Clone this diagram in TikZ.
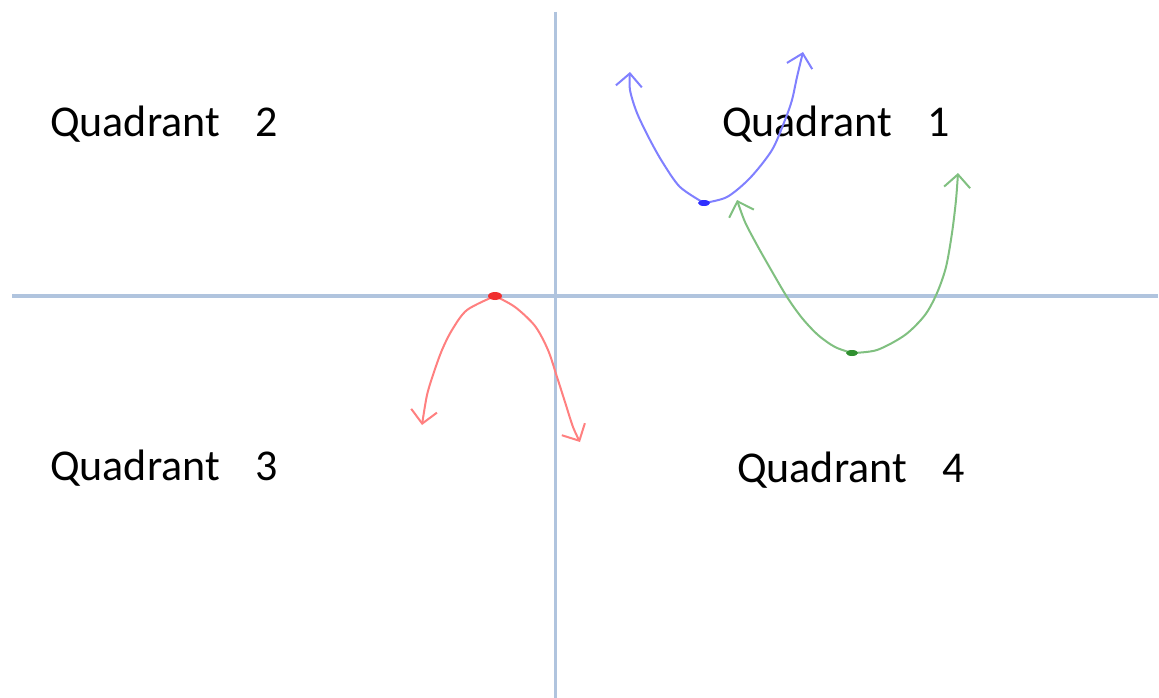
\documentclass[tikz,border=0pt]{standalone}
\usepackage{fontspec}
\setmainfont{Carlito}
\usetikzlibrary{arrows.meta}
\definecolor{axiscol}{HTML}{B0C4DE}
\definecolor{bluec}{HTML}{8080FF}
\definecolor{blued}{HTML}{3030FF}
\definecolor{greenc}{HTML}{80C080}
\definecolor{greend}{HTML}{309030}
\definecolor{redc}{HTML}{FF8080}
\definecolor{redd}{HTML}{F03030}
\begin{document}
\begin{tikzpicture}[x=1pt,y=-1pt,
  quad/.style={anchor=base west,inner sep=0pt,font=\fontsize{44}{50}\selectfont},
  axis/.style={draw=axiscol,line width=3.5pt},
  curve/.style={line width=2pt,-{Straight Barb[length=13pt,width=26pt,line width=2pt]}}]
\useasboundingbox (0,0) rectangle (1159,698);
\fill[white] (0,0) rectangle (1159,698);
% axes
\coordinate (xl) at (12,296);
\coordinate (xr) at (1158,296);
\coordinate (yt) at (555,12);
\coordinate (yb) at (555,698);
\draw[axis] (xl) -- (xr);
\draw[axis,line width=3pt] (yt) -- (yb);
% labels
\node[quad] (q2) at (50,136) {Quadrant\hspace{35pt}2};
\node[quad] (q1) at (722,136) {Quadrant\hspace{35pt}1};
\node[quad] (q3) at (50,480) {Quadrant\hspace{35pt}3};
\node[quad] (q4) at (737,482) {Quadrant\hspace{35pt}4};
% blue curve
\coordinate (bv) at (704,203);
\draw[bluec,curve] plot[smooth,tension=0.5] coordinates {(704,203) (680,187) (663,163) (650,140) (637,113) (630,90) (630,72)};
\draw[bluec,curve] plot[smooth,tension=0.5] coordinates {(704,203) (727,197) (750,178) (772,150) (785,120) (792,100) (797,77) (803,52)};
\fill[blued] (bv) ellipse (6pt and 3pt);
% green curve
\coordinate (gv) at (852,353);
\draw[greenc,curve] plot[smooth,tension=0.5] coordinates {(852,353) (835,347) (818,335) (802,318) (787,297) (770,268) (757,245) (745,222) (737,200)};
\draw[greenc,curve] plot[smooth,tension=0.5] coordinates {(852,353) (877,350) (905,335) (925,315) (937,293) (946,267) (952,233) (956,200) (958,173)};
\fill[greend] (gv) ellipse (6pt and 3pt);
% red curve
\coordinate (rv) at (495,296);
\draw[redc,curve] plot[smooth,tension=0.5] coordinates {(495,296) (467,310) (452,330) (442,350) (434,372) (427,395) (422,425)};
\draw[redc,curve] plot[smooth,tension=0.5] coordinates {(495,296) (515,307) (535,326) (548,350) (557,377) (565,402) (573,427) (580,442)};
\fill[redd] (rv) ellipse (7pt and 4pt);
\end{tikzpicture}
\end{document}
